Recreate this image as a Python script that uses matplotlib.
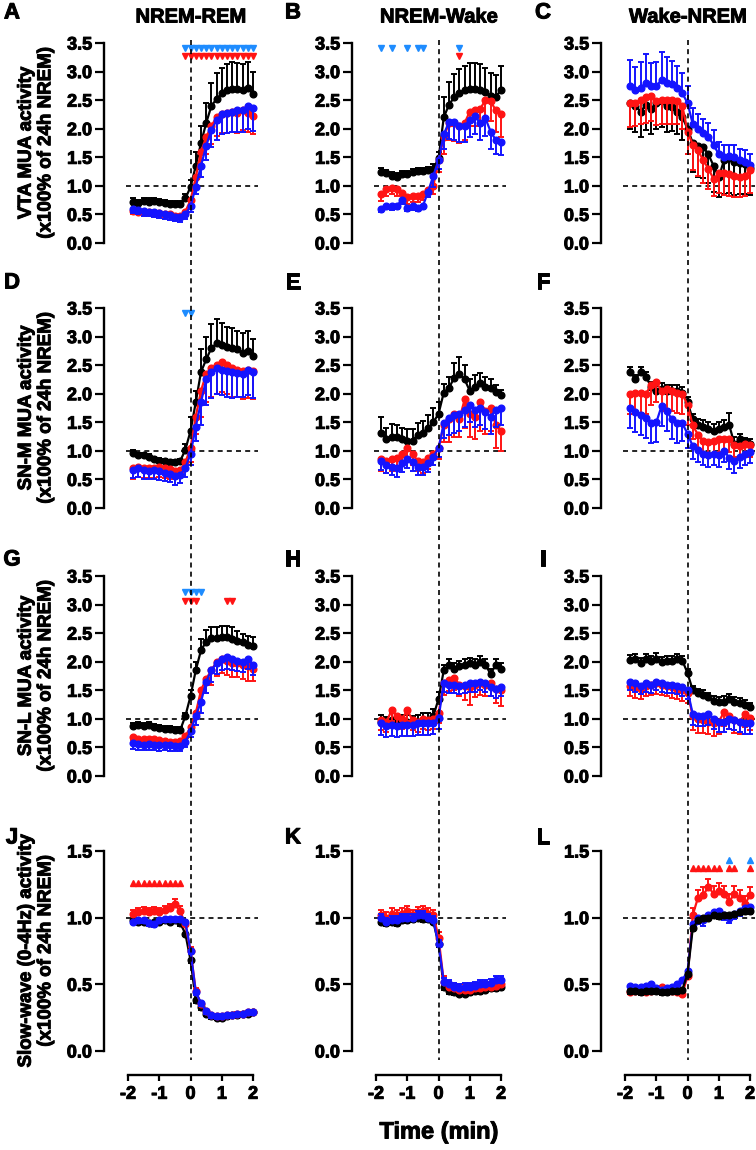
import numpy as np
import matplotlib
matplotlib.use('Agg')
import matplotlib.pyplot as plt
import matplotlib.transforms as mtransforms
import matplotlib.patheffects as pe
from matplotlib.lines import Line2D
from matplotlib.ticker import FormatStrFormatter

plt.rcParams['font.family'] = ['Liberation Sans', 'DejaVu Sans']
plt.rcParams['font.weight'] = 'bold'
plt.rcParams['axes.unicode_minus'] = False

# time (min) of the 10-s bins around the state transition
t = np.arange(-11, 13) / 6.0

col_titles = ['NREM-REM', 'NREM-Wake', 'Wake-NREM']
row_labels = ['VTA MUA activity\n(x100% of 24h NREM)',
              'SN-M MUA activity\n(x100% of 24h NREM)',
              'SN-L MUA activity\n(x100% of 24h NREM)',
              'Slow-wave (0-4Hz) activity\n(x100% of 24h NREM)']
letters = ['A', 'B', 'C', 'D', 'E', 'F', 'G', 'H', 'I', 'J', 'K', 'L']

# ---- VTA ----
A_blk = [0.72,0.70,0.74,0.72,0.73,0.72,0.70,0.69,0.68,0.68,0.78,0.98,1.35,1.75,2.10,2.40,2.52,2.62,2.68,2.70,2.70,2.68,2.72,2.60]
A_red = [0.56,0.55,0.55,0.54,0.53,0.52,0.51,0.50,0.48,0.48,0.55,0.75,1.15,1.60,1.85,2.05,2.20,2.25,2.28,2.30,2.28,2.32,2.28,2.22]
A_blu = [0.60,0.58,0.56,0.55,0.54,0.52,0.50,0.49,0.46,0.45,0.50,0.65,0.98,1.35,1.70,1.98,2.15,2.25,2.28,2.30,2.32,2.32,2.40,2.36]
A_blk_e = [0.06,0.06,0.05,0.06,0.05,0.05,0.05,0.05,0.05,0.05,0.08,0.12,0.25,0.30,0.35,0.40,0.45,0.45,0.45,0.47,0.45,0.45,0.45,0.40]
A_red_e = [0.05,0.05,0.05,0.05,0.05,0.05,0.05,0.05,0.05,0.05,0.06,0.10,0.20,0.25,0.30,0.32,0.33,0.33,0.35,0.35,0.35,0.35,0.33,0.32]
A_blu_e = [0.08,0.08,0.08,0.08,0.08,0.08,0.08,0.08,0.08,0.08,0.08,0.10,0.12,0.20,0.25,0.30,0.35,0.35,0.35,0.35,0.38,0.38,0.40,0.40]

B_blk = [1.24,1.22,1.18,1.16,1.20,1.20,1.24,1.26,1.26,1.28,1.30,1.48,2.20,2.42,2.55,2.62,2.68,2.70,2.70,2.68,2.65,2.58,2.56,2.68]
B_red = [0.85,0.95,0.97,0.95,0.88,0.80,0.82,0.82,0.85,0.92,1.00,1.45,1.85,2.10,2.10,2.05,2.10,2.30,2.32,2.35,2.50,2.48,2.32,2.25]
B_blu = [0.60,0.65,0.64,0.65,0.76,0.62,0.64,0.62,0.65,0.90,1.18,1.45,1.90,2.12,2.12,2.05,2.05,2.15,2.22,2.10,2.18,1.95,1.80,1.76]
B_blk_e = [0.07,0.06,0.06,0.06,0.06,0.06,0.06,0.06,0.05,0.05,0.08,0.12,0.35,0.40,0.40,0.42,0.42,0.45,0.45,0.45,0.42,0.40,0.38,0.42]
B_red_e = [0.12,0.12,0.12,0.12,0.12,0.12,0.10,0.10,0.10,0.12,0.15,0.20,0.30,0.30,0.32,0.30,0.30,0.25,0.28,0.30,0.35,0.35,0.38,0.40]
B_blu_e = [0.06,0.06,0.06,0.06,0.08,0.06,0.06,0.06,0.06,0.10,0.20,0.15,0.25,0.30,0.32,0.28,0.28,0.30,0.32,0.30,0.30,0.30,0.25,0.22]

C_blk = [2.45,2.40,2.30,2.42,2.35,2.45,2.48,2.40,2.38,2.30,2.20,2.00,1.75,1.70,1.68,1.55,1.35,1.15,1.45,1.48,1.42,1.40,1.38,1.32]
C_red = [2.45,2.45,2.50,2.55,2.58,2.48,2.50,2.50,2.50,2.48,2.40,1.95,1.72,1.62,1.45,1.30,1.12,1.22,1.22,1.20,1.18,1.15,1.18,1.27]
C_blu = [2.75,2.68,2.72,2.80,2.75,2.75,2.85,2.80,2.78,2.72,2.62,2.45,2.08,2.00,1.92,1.85,1.72,1.55,1.50,1.52,1.50,1.45,1.42,1.36]
C_blk_e = [0.45,0.45,0.45,0.45,0.45,0.45,0.45,0.45,0.42,0.40,0.40,0.45,0.50,0.55,0.55,0.50,0.45,0.35,0.60,0.60,0.58,0.55,0.52,0.48]
C_red_e = [0.42,0.40,0.42,0.45,0.45,0.42,0.42,0.42,0.42,0.40,0.40,0.40,0.45,0.45,0.40,0.35,0.30,0.35,0.38,0.38,0.38,0.35,0.35,0.40]
C_blu_e = [0.45,0.40,0.45,0.50,0.40,0.42,0.50,0.45,0.40,0.38,0.35,0.30,0.28,0.25,0.25,0.25,0.25,0.22,0.22,0.20,0.22,0.20,0.20,0.20]

# ---- SN-M ----
D_blk = [0.97,0.93,0.92,0.90,0.85,0.83,0.82,0.80,0.80,0.82,1.02,1.35,1.85,2.38,2.60,2.80,2.88,2.85,2.82,2.80,2.78,2.72,2.75,2.66]
D_red = [0.70,0.72,0.70,0.70,0.70,0.72,0.70,0.68,0.65,0.66,0.80,1.05,1.60,2.05,2.35,2.45,2.50,2.55,2.50,2.45,2.42,2.40,2.42,2.40]
D_blu = [0.67,0.70,0.66,0.65,0.66,0.64,0.62,0.60,0.56,0.58,0.70,0.95,1.42,1.85,2.25,2.38,2.45,2.42,2.40,2.38,2.36,2.35,2.42,2.38]
D_blk_e = [0.04,0.04,0.04,0.04,0.04,0.04,0.04,0.04,0.04,0.04,0.10,0.25,0.20,0.40,0.40,0.42,0.42,0.38,0.35,0.35,0.32,0.35,0.35,0.30]
D_red_e = [0.20,0.18,0.18,0.18,0.18,0.18,0.18,0.18,0.15,0.12,0.15,0.25,0.30,0.45,0.50,0.50,0.50,0.52,0.50,0.50,0.48,0.50,0.50,0.50]
D_blu_e = [0.15,0.15,0.15,0.15,0.15,0.15,0.15,0.15,0.15,0.15,0.15,0.20,0.25,0.40,0.45,0.45,0.45,0.45,0.45,0.45,0.42,0.40,0.45,0.45]

E_blk = [1.32,1.20,1.25,1.25,1.20,1.18,1.18,1.28,1.32,1.40,1.50,1.65,2.02,2.10,2.28,2.35,2.25,2.05,2.12,2.18,2.12,2.10,2.03,1.97]
E_red = [0.85,0.82,0.85,0.88,0.95,1.05,0.95,0.82,0.80,0.88,0.95,1.05,1.45,1.55,1.65,1.55,1.90,1.65,1.60,1.85,1.70,1.75,1.45,1.35]
E_blu = [0.82,0.76,0.72,0.70,0.78,0.85,0.80,0.72,0.72,0.78,0.90,1.05,1.48,1.58,1.62,1.65,1.72,1.80,1.72,1.75,1.68,1.60,1.72,1.75]
E_blk_e = [0.28,0.20,0.22,0.20,0.20,0.20,0.20,0.20,0.20,0.22,0.25,0.20,0.15,0.20,0.25,0.30,0.25,0.20,0.20,0.18,0.18,0.15,0.12,0.10]
E_red_e = [0.20,0.20,0.20,0.20,0.20,0.20,0.20,0.18,0.18,0.20,0.20,0.20,0.30,0.40,0.40,0.30,0.50,0.40,0.40,0.50,0.40,0.40,0.40,0.35]
E_blu_e = [0.15,0.15,0.15,0.15,0.15,0.15,0.15,0.15,0.15,0.15,0.15,0.15,0.25,0.30,0.30,0.30,0.30,0.30,0.30,0.30,0.30,0.30,0.30,0.30]

F_blk = [2.38,2.25,2.38,2.30,2.12,2.05,2.08,2.05,2.05,2.05,2.02,1.85,1.55,1.45,1.42,1.38,1.35,1.38,1.42,1.45,1.12,1.20,1.15,1.12]
F_red = [2.00,2.02,2.02,2.00,2.15,2.20,2.05,2.08,2.05,2.02,2.00,1.80,1.45,1.28,1.18,1.15,1.18,1.20,1.20,1.20,1.10,1.08,1.12,1.10]
F_blu = [1.75,1.68,1.62,1.58,1.48,1.50,1.78,1.70,1.55,1.48,1.48,1.30,1.08,1.02,0.95,0.92,0.95,0.92,1.00,0.88,0.82,0.90,0.95,0.98]
F_blk_e = [0.08,0.08,0.08,0.08,0.08,0.08,0.10,0.10,0.10,0.10,0.10,0.10,0.10,0.10,0.12,0.12,0.12,0.12,0.12,0.22,0.12,0.10,0.08,0.08]
F_red_e = [0.35,0.35,0.35,0.35,0.35,0.35,0.35,0.35,0.35,0.35,0.35,0.35,0.25,0.25,0.22,0.22,0.22,0.22,0.22,0.22,0.20,0.20,0.20,0.20]
F_blu_e = [0.35,0.35,0.35,0.35,0.35,0.35,0.35,0.35,0.35,0.35,0.30,0.25,0.22,0.22,0.20,0.20,0.20,0.20,0.20,0.20,0.20,0.20,0.20,0.20]

# ---- SN-L ----
G_blk = [0.88,0.90,0.88,0.90,0.86,0.84,0.82,0.82,0.80,0.80,1.05,1.40,1.85,2.20,2.35,2.42,2.42,2.43,2.44,2.40,2.36,2.34,2.30,2.28]
G_red = [0.68,0.64,0.65,0.64,0.64,0.63,0.62,0.60,0.60,0.62,0.70,0.85,1.10,1.50,1.70,1.85,2.00,2.05,2.02,1.98,1.98,1.95,1.92,1.88]
G_blu = [0.58,0.56,0.55,0.56,0.55,0.54,0.55,0.54,0.53,0.53,0.60,0.78,1.05,1.30,1.65,1.85,1.98,2.05,2.08,2.05,2.02,2.00,2.05,1.95]
G_blk_e = [0.05,0.05,0.05,0.05,0.05,0.05,0.05,0.05,0.05,0.05,0.06,0.10,0.15,0.20,0.20,0.18,0.18,0.20,0.18,0.20,0.18,0.15,0.15,0.15]
G_red_e = [0.05,0.05,0.05,0.05,0.05,0.05,0.05,0.05,0.05,0.05,0.06,0.08,0.10,0.20,0.25,0.25,0.25,0.25,0.25,0.25,0.25,0.25,0.25,0.22]
G_blu_e = [0.10,0.10,0.10,0.10,0.10,0.10,0.10,0.10,0.10,0.10,0.10,0.10,0.15,0.20,0.20,0.20,0.20,0.20,0.20,0.20,0.18,0.18,0.18,0.18]

H_blk = [0.95,0.92,0.98,0.92,0.95,0.95,0.93,0.95,0.98,0.98,1.05,1.35,1.85,1.95,1.88,1.92,1.95,1.97,1.95,2.00,1.95,1.78,1.95,1.88]
H_red = [0.98,0.95,1.15,1.05,1.00,1.15,0.98,0.95,1.00,0.98,1.00,1.10,1.62,1.68,1.72,1.60,1.58,1.55,1.60,1.62,1.60,1.62,1.52,1.50]
H_blu = [0.92,0.88,0.90,0.88,0.90,0.90,0.90,0.92,0.92,0.92,0.93,1.02,1.62,1.60,1.60,1.58,1.60,1.62,1.62,1.65,1.62,1.55,1.52,1.55]
H_blk_e = [0.12,0.12,0.12,0.12,0.12,0.12,0.12,0.12,0.12,0.12,0.12,0.12,0.10,0.10,0.10,0.10,0.10,0.10,0.10,0.10,0.10,0.10,0.10,0.10]
H_red_e = [0.18,0.18,0.18,0.18,0.18,0.18,0.18,0.18,0.18,0.18,0.18,0.18,0.20,0.20,0.22,0.20,0.25,0.30,0.22,0.20,0.20,0.22,0.25,0.28]
H_blu_e = [0.20,0.20,0.20,0.20,0.20,0.20,0.20,0.20,0.20,0.20,0.20,0.20,0.15,0.15,0.15,0.15,0.15,0.15,0.15,0.15,0.15,0.15,0.15,0.15]

I_blk = [2.03,2.05,1.98,2.05,2.02,2.05,2.00,2.02,2.02,2.05,2.02,1.80,1.50,1.45,1.42,1.38,1.32,1.30,1.30,1.35,1.30,1.28,1.25,1.20]
I_red = [1.58,1.55,1.52,1.58,1.60,1.62,1.60,1.58,1.55,1.52,1.50,1.45,1.05,1.00,0.98,0.95,0.92,0.95,1.12,1.05,0.98,0.95,1.08,1.02]
I_blu = [1.65,1.62,1.58,1.62,1.60,1.65,1.62,1.60,1.60,1.58,1.55,1.50,1.08,1.05,1.05,1.08,1.00,0.95,0.95,1.00,0.98,0.95,0.92,0.92]
I_blk_e = [0.08,0.08,0.08,0.08,0.08,0.10,0.08,0.08,0.08,0.08,0.08,0.08,0.08,0.08,0.08,0.08,0.08,0.08,0.10,0.08,0.08,0.08,0.08,0.08]
I_red_e = [0.18,0.18,0.18,0.18,0.18,0.18,0.18,0.18,0.18,0.18,0.18,0.18,0.25,0.25,0.22,0.22,0.22,0.22,0.25,0.22,0.22,0.22,0.22,0.22]
I_blu_e = [0.15,0.15,0.15,0.15,0.15,0.15,0.15,0.15,0.15,0.15,0.15,0.15,0.18,0.18,0.18,0.18,0.18,0.18,0.18,0.18,0.18,0.18,0.18,0.18]

# ---- slow-wave (0-4 Hz) ----
J_blk = [0.98,0.97,0.97,0.96,0.97,0.97,0.98,0.97,0.98,0.96,0.88,0.68,0.38,0.33,0.28,0.26,0.25,0.25,0.26,0.27,0.27,0.28,0.28,0.29]
J_red = [1.03,1.04,1.05,1.04,1.05,1.04,1.06,1.07,1.10,1.05,0.95,0.75,0.45,0.35,0.30,0.27,0.26,0.26,0.27,0.27,0.28,0.28,0.29,0.29]
J_blu = [0.97,0.98,0.98,0.96,0.95,0.98,0.99,0.99,0.99,0.99,0.97,0.75,0.44,0.36,0.30,0.27,0.26,0.26,0.27,0.27,0.28,0.28,0.29,0.29]
J_blk_e = [0.02] * 24
J_red_e = [0.03,0.03,0.03,0.03,0.03,0.03,0.03,0.03,0.04,0.04,0.03,0.03,0.02,0.01,0.01,0.01,0.01,0.01,0.01,0.01,0.01,0.01,0.01,0.01]
J_blu_e = [0.02] * 24

K_blk = [0.97,0.96,0.97,0.96,0.98,0.98,0.99,1.00,0.99,0.99,0.97,0.80,0.48,0.45,0.44,0.43,0.43,0.44,0.45,0.45,0.46,0.47,0.47,0.48]
K_red = [1.02,1.00,1.03,1.02,1.03,1.05,1.02,1.04,1.05,1.03,1.02,0.85,0.52,0.48,0.47,0.46,0.46,0.46,0.47,0.47,0.48,0.48,0.49,0.50]
K_blu = [1.00,0.97,0.98,0.98,1.00,1.00,1.00,1.02,1.02,1.00,0.98,0.80,0.52,0.50,0.48,0.47,0.48,0.48,0.49,0.50,0.50,0.51,0.53,0.53]
K_blk_e = [0.02] * 24
K_red_e = [0.04] * 24
K_blu_e = [0.03] * 24

L_blk = [0.45,0.45,0.44,0.45,0.45,0.45,0.44,0.44,0.45,0.45,0.46,0.58,0.92,0.98,1.00,1.00,1.02,1.01,1.02,1.02,1.03,1.04,1.05,1.05]
L_red = [0.44,0.45,0.45,0.44,0.45,0.46,0.48,0.45,0.45,0.44,0.43,0.56,1.02,1.15,1.17,1.23,1.18,1.20,1.18,1.12,1.18,1.15,1.10,1.17]
L_blu = [0.49,0.48,0.48,0.49,0.50,0.47,0.46,0.47,0.48,0.50,0.53,0.60,0.95,1.00,0.98,1.02,1.04,1.05,1.02,1.00,1.03,1.05,1.07,1.08]
L_blk_e = [0.02] * 24
L_red_e = [0.01,0.01,0.01,0.01,0.01,0.01,0.01,0.01,0.01,0.01,0.01,0.02,0.05,0.06,0.06,0.06,0.06,0.06,0.06,0.06,0.06,0.06,0.06,0.06]
L_blu_e = [0.01,0.01,0.01,0.01,0.01,0.01,0.01,0.01,0.01,0.01,0.01,0.02,0.04,0.05,0.04,0.04,0.04,0.04,0.04,0.04,0.04,0.04,0.04,0.04]

# significance markers (times, min)
A_sig_blu = list(t[10:])
A_sig_red = list(t[10:])
B_sig_blu = [-11/6, -9/6, -6/6, -4/6, -3/6, 4/6]
B_sig_red = [4/6]
D_sig_blu = [-1/6, 0.0]
G_sig_blu = [-1/6, 0.0, 1/6, 2/6]
G_sig_red = [-1/6, 0.0, 1/6, 7/6, 8/6]
J_sig_red = list(t[:10])
L_sig_red = [1/6, 2/6, 3/6, 4/6, 5/6, 6/6, 8/6, 9/6, 12/6]
L_sig_blu = [8/6, 12/6]

BLK, RED, BLU = 'black', '#ff1414', '#1414ff'
SIG_BLU = '#1e8cff'

panels = {
    'A': (A_blk, A_red, A_blu, A_blk_e, A_red_e, A_blu_e, (1, -1, -1)),
    'B': (B_blk, B_red, B_blu, B_blk_e, B_red_e, B_blu_e, (1, -1, -1)),
    'C': (C_blk, C_red, C_blu, C_blk_e, C_red_e, C_blu_e, (-1, -1, 1)),
    'D': (D_blk, D_red, D_blu, D_blk_e, D_red_e, D_blu_e, (1, -1, -1)),
    'E': (E_blk, E_red, E_blu, E_blk_e, E_red_e, E_blu_e, (1, -1, -1)),
    'F': (F_blk, F_red, F_blu, F_blk_e, F_red_e, F_blu_e, (1, -1, -1)),
    'G': (G_blk, G_red, G_blu, G_blk_e, G_red_e, G_blu_e, (1, -1, -1)),
    'H': (H_blk, H_red, H_blu, H_blk_e, H_red_e, H_blu_e, (1, -1, -1)),
    'I': (I_blk, I_red, I_blu, I_blk_e, I_red_e, I_blu_e, (1, -1, -1)),
    'J': (J_blk, J_red, J_blu, J_blk_e, J_red_e, J_blu_e, (-1, 1, -1)),
    'K': (K_blk, K_red, K_blu, K_blk_e, K_red_e, K_blu_e, (-1, 1, 1)),
    'L': (L_blk, L_red, L_blu, L_blk_e, L_red_e, L_blu_e, (-1, 1, -1)),
}

W, H = 756, 1150
fig = plt.figure(figsize=(W / 100, H / 100), dpi=100)

col_x = [104, 352, 601]          # left spine, px
row_top = [43, 308, 576, 851]    # top of y range, px
ax_w, ax_h = 153.75, 200
xlim = (-2.77, 2.15)
heavy = [pe.withStroke(linewidth=0.7, foreground='black')]

def draw_series(ax, y, e, d, color, z):
    e = np.asarray(e)
    lo = e if d < 0 else np.zeros_like(e)
    hi = e if d > 0 else np.zeros_like(e)
    ax.errorbar(t, y, yerr=[lo, hi], color=color, lw=1.6, marker='o', ms=4.8,
                mec=color, elinewidth=1.4, capsize=2.1, capthick=1.4, zorder=z,
                clip_on=False)

axes = []
for r in range(4):
    for c in range(3):
        k = letters[r * 3 + c]
        ax = fig.add_axes([col_x[c] / W, 1 - (row_top[r] + ax_h) / H, ax_w / W, ax_h / H])
        axes.append(ax)
        blk, red, blu, eb, er, eu, dirs = panels[k]
        order = [(blk, eb, dirs[0], BLK), (red, er, dirs[1], RED), (blu, eu, dirs[2], BLU)]
        if k == 'C':
            order = [order[0], order[2], order[1]]
        if k == 'L':
            order = [order[1], order[2], order[0]]
        for z, (y, e, d, col) in enumerate(order):
            draw_series(ax, y, e, d, col, 3 + z)
        ax.hlines(1.0, -2.07, 2.15, colors='black', linestyles=(0, (3, 2.5)), lw=1.2, zorder=1)

        ymax = 3.5 if r < 3 else 1.5
        ax.set_ylim(0, ymax)
        ax.set_xlim(*xlim)
        ax.set_yticks(np.arange(0, ymax + 0.01, 0.5))
        ax.yaxis.set_major_formatter(FormatStrFormatter('%.1f'))
        ax.tick_params(axis='y', direction='out', length=6.5, width=1.6, pad=2,
                       labelsize=13)
        for s in ['top', 'right']:
            ax.spines[s].set_visible(False)
        ax.spines['left'].set_linewidth(1.7)
        ax.patch.set_alpha(0)
        if r < 3:
            ax.spines['bottom'].set_visible(False)
            ax.set_xticks([])
        else:
            ax.spines['bottom'].set_position(('outward', 17))
            ax.spines['bottom'].set_bounds(-2, 2)
            ax.spines['bottom'].set_linewidth(1.7)
            ax.set_xticks([-2, -1, 0, 1, 2])
            ax.set_xticklabels(['-2', '-1', '0', '1', '2'])
            ax.tick_params(axis='x', direction='out', length=4, width=1.6, pad=4,
                           labelsize=13)
        for lab in ax.get_yticklabels() + ax.get_xticklabels():
            lab.set_fontweight('bold')
            lab.set_path_effects(heavy)

# significance triangles
sig = [('A', A_sig_blu, 3.42, SIG_BLU, 'v'), ('A', A_sig_red, 3.27, RED, 'v'),
       ('B', B_sig_blu, 3.42, SIG_BLU, 'v'), ('B', B_sig_red, 3.27, RED, 'v'),
       ('D', D_sig_blu, 3.42, SIG_BLU, 'v'),
       ('G', G_sig_blu, 3.22, SIG_BLU, 'v'), ('G', G_sig_red, 3.06, RED, 'v'),
       ('J', J_sig_red, 1.26, RED, '^'),
       ('L', L_sig_red, 1.37, RED, '^'), ('L', L_sig_blu, 1.43, SIG_BLU, '^')]
for k, xs, yv, col, m in sig:
    ax = axes[letters.index(k)]
    ax.plot(xs, [yv] * len(xs), ls='none', marker=m, ms=4.2, color=col,
            clip_on=False, zorder=8)

# vertical dashed line at t=0 running through each column
for c in range(3):
    tr = mtransforms.blended_transform_factory(axes[9 + c].transData, fig.transFigure)
    fig.add_artist(Line2D([0, 0], [1 - 40 / H, 1 - 1060 / H], transform=tr,
                          color='black', ls=(0, (3, 2.5)), lw=1.2, zorder=2))

# column titles
for c, title in enumerate(col_titles):
    fig.text((col_x[c] + 87) / W, 1 - 17 / H, title, ha='center', va='center',
             fontsize=14.5, fontweight='bold', path_effects=heavy)

# panel letters
letter_y = [13, 283, 560, 838]
letter_x = [12, 293, 543]
for r in range(4):
    for c in range(3):
        fig.text(letter_x[c] / W, 1 - letter_y[r] / H, letters[r * 3 + c],
                 ha='center', va='center', fontsize=16, fontweight='bold',
                 path_effects=heavy)

# row labels
for r in range(4):
    fig.text(36 / W, 1 - (row_top[r] + ax_h / 2) / H, row_labels[r], rotation=90,
             ha='center', va='center', multialignment='center', fontsize=13.5,
             fontweight='bold', linespacing=1.2, path_effects=heavy)

fig.text(439 / W, 1 - 1132 / H, 'Time (min)', ha='center', va='center',
         fontsize=17, fontweight='bold', path_effects=heavy)

fig.savefig('out.png', dpi=100)
